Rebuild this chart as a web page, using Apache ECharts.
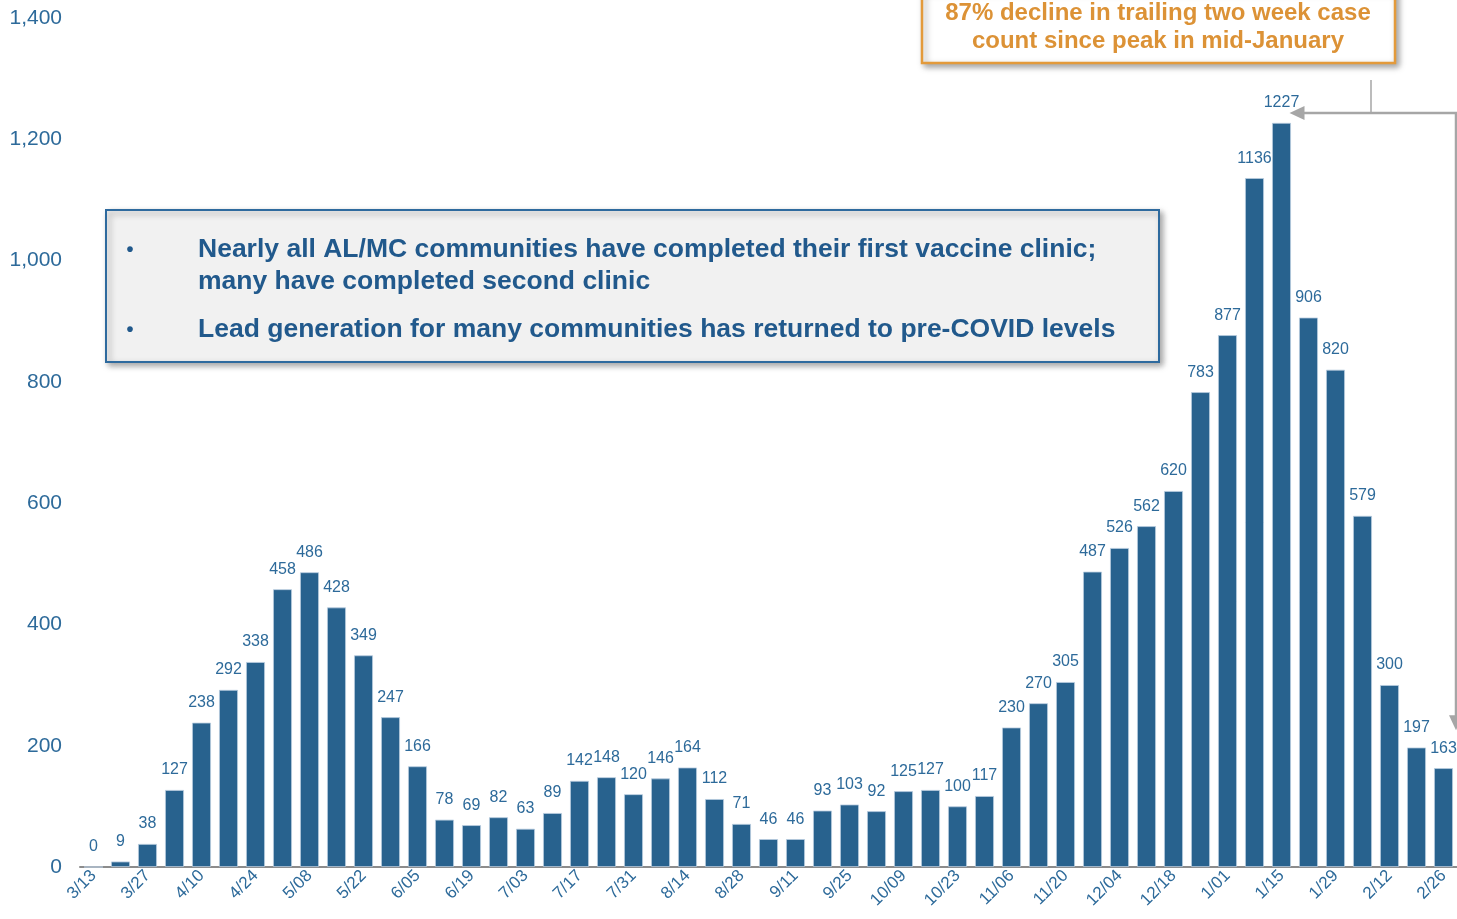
<!DOCTYPE html>
<html>
<head>
<meta charset="utf-8">
<script src="https://cdn.jsdelivr.net/npm/echarts@6/dist/echarts.min.js"></script>
<style>
  html, body { margin: 0; padding: 0; background: #fff; }
  #chart { width: 1457px; height: 919px; }
</style>
</head>
<body>
<div id="chart"></div>
<script>
// weekly case counts, 3/13 through 2/26
const weeks = [
  '3/13', '3/20', '3/27', '4/03', '4/10', '4/17', '4/24', '5/01', '5/08', '5/15',
  '5/22', '5/29', '6/05', '6/12', '6/19', '6/26', '7/03', '7/10', '7/17', '7/24',
  '7/31', '8/07', '8/14', '8/21', '8/28', '9/04', '9/11', '9/18', '9/25', '10/02',
  '10/09', '10/16', '10/23', '10/30', '11/06', '11/13', '11/20', '11/27', '12/04', '12/11',
  '12/18', '12/25', '1/01', '1/08', '1/15', '1/22', '1/29', '2/05', '2/12', '2/19',
  '2/26',
]
const cases = [
  0, 9, 38, 127, 238, 292, 338, 458, 486, 428,
  349, 247, 166, 78, 69, 82, 63, 89, 142, 148,
  120, 146, 164, 112, 71, 46, 46, 93, 103, 92,
  125, 127, 100, 117, 230, 270, 305, 487, 526, 562,
  620, 783, 877, 1136, 1227, 906, 820, 579, 300, 197,
  163,
]
const bullets = [
  ['Nearly all AL/MC communities have completed their first vaccine clinic;', 'many have completed second clinic'],
  ['Lead generation for many communities has returned to pre-COVID levels'],
]
const callout = ['87% decline in trailing two week case', 'count since peak in mid-January']

const FONT = '"Liberation Sans", Arial, sans-serif'
const BLUE = '#28628e'
const TEXT_BLUE = '#2d6a9a'
const ORANGE = '#dc9236'
const ARROW = '#a6a6a6'

const chart = echarts.init(document.getElementById('chart'))

chart.setOption({
  animation: false,
  grid: { left: 80, right: 0, top: 18, bottom: 52 },
  xAxis: {
    type: 'category',
    data: weeks,
    axisLine: { lineStyle: { color: '#8c8c8c', width: 2 } },
    axisTick: { show: false },
    axisLabel: {
      interval: 1,
      rotate: 45,
      margin: 6,
      color: TEXT_BLUE,
      fontSize: 17,
      fontFamily: FONT,
    },
  },
  yAxis: {
    type: 'value',
    min: 0,
    max: 1400,
    interval: 200,
    splitLine: { show: false },
    axisLine: { show: false },
    axisTick: { show: false },
    axisLabel: {
      margin: 18,
      color: TEXT_BLUE,
      fontSize: 21,
      fontFamily: FONT,
      formatter: v => v.toLocaleString('en-US'),
    },
  },
  series: [{
    type: 'bar',
    data: cases,
    barCategoryGap: '30%',
    itemStyle: { color: BLUE, borderColor: '#b9cde0', borderWidth: 0.8 },
    label: {
      show: true,
      position: 'top',
      distance: 12,
      color: TEXT_BLUE,
      fontSize: 16,
      fontFamily: FONT,
    },
  }],
})

// overlays: bullet box, callout box, arrows pointing at peak and latest week
const peakIdx = cases.indexOf(Math.max(...cases))
const lastIdx = cases.length - 1
const peakPt = chart.convertToPixel({ seriesIndex: 0 }, [peakIdx, cases[peakIdx]])
const lastPt = chart.convertToPixel({ seriesIndex: 0 }, [lastIdx, cases[lastIdx]])
const barHalf = 10
const arrowY = peakPt[1] - 10
const arrowX = 1456
const tipX = peakPt[0] + barHalf - 2
const tipY = lastPt[1] - 38

const bulletLines = []
let lineY = 250
bullets.forEach((lines) => {
  bulletLines.push({
    type: 'text', x: 130, y: lineY,
    style: { text: '•', fill: '#21598c', font: 'bold 20px ' + FONT, textAlign: 'center', textVerticalAlign: 'middle' },
  })
  lines.forEach((t) => {
    bulletLines.push({
      type: 'text', x: 198, y: lineY,
      style: { text: t, fill: '#21598c', font: 'bold 26.5px ' + FONT, textVerticalAlign: 'middle' },
    })
    lineY += 32
  })
  lineY += 16
})

chart.setOption({
  graphic: [
    {
      type: 'rect',
      shape: { x: 106, y: 210, width: 1053, height: 152 },
      style: {
        fill: '#f1f1f1', stroke: '#2e6a9e', lineWidth: 2,
        shadowBlur: 6, shadowOffsetX: 3, shadowOffsetY: 3, shadowColor: 'rgba(0,0,0,0.35)',
      },
    },
    ...bulletLines,
    {
      type: 'rect',
      shape: { x: 922, y: -10, width: 473, height: 73 },
      style: {
        fill: '#fff', stroke: '#e39a3b', lineWidth: 2.5,
        shadowBlur: 6, shadowOffsetX: 3, shadowOffsetY: 3, shadowColor: 'rgba(0,0,0,0.35)',
      },
    },
    ...callout.map((t, i) => ({
      type: 'text', x: 1158, y: 13 + i * 28,
      style: { text: t, fill: ORANGE, font: 'bold 24px ' + FONT, textAlign: 'center', textVerticalAlign: 'middle' },
    })),
    {
      type: 'polyline',
      shape: { points: [[1371, 80], [1371, arrowY]] },
      style: { stroke: ARROW, lineWidth: 1.5 },
    },
    {
      type: 'polyline',
      shape: { points: [[tipX + 12, arrowY], [arrowX, arrowY], [arrowX, tipY - 12]] },
      style: { stroke: ARROW, lineWidth: 2.5, fill: null },
    },
    {
      type: 'polygon',
      shape: { points: [[tipX, arrowY], [tipX + 15, arrowY - 7], [tipX + 15, arrowY + 7]] },
      style: { fill: ARROW },
    },
    {
      type: 'polygon',
      shape: { points: [[arrowX, tipY], [arrowX - 7, tipY - 15], [arrowX + 7, tipY - 15]] },
      style: { fill: ARROW },
    },
  ],
})
</script>
</body>
</html>
